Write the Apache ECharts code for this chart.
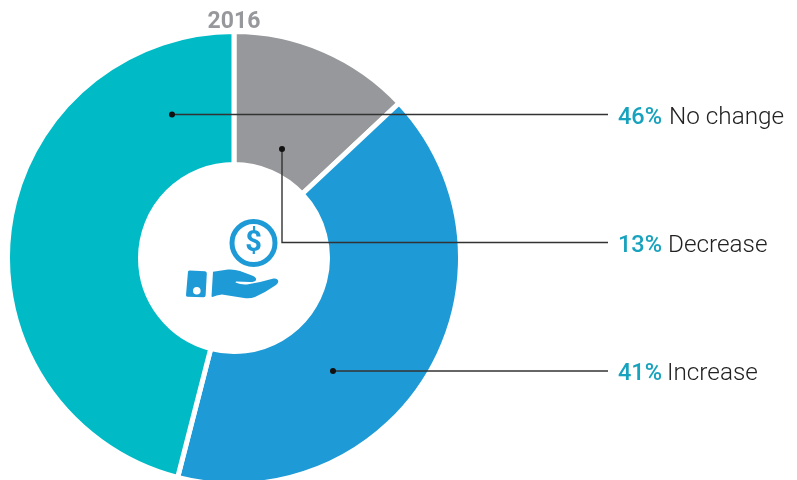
<!DOCTYPE html>
<html><head><meta charset="utf-8">
<style>html,body{margin:0;padding:0;background:#fff}#c{width:797px;height:480px}</style>
<script src="https://cdn.jsdelivr.net/npm/echarts@6/dist/echarts.min.js"></script>
</head><body><div id="c"></div>
<script>
const title = '2016';
const names = ['Decrease', 'Increase', 'No change'];
const values = [13, 41, 46];
const colors = ['#97989b', '#1e9ad6', '#00bac6'];
const legendOrder = [2, 0, 1];
const legendY = [118, 246, 374];
const nameX = [669, 668, 667];
const leaders = [
  [[172,114.5],[608,114.5]],
  [[282,149],[282,242.5],[608,242.5]],
  [[333,371],[608,371]]
];
const blue = '#1e9ad6';
echarts.graphic.registerShape('iconCard', echarts.graphic.extendPath('M188 271.5 Q188.5 270.5 190 270.5 L205 271.3 Q207 271.5 206.8 273.5 L205.6 295.5 Q205.5 297.3 203.5 297.3 L187.5 296.8 Q185.8 296.7 186 295 Z', {}));
echarts.graphic.registerShape('iconHand', echarts.graphic.extendPath('M213 271.8 L228 269.5 Q234 269 240 271 L252 275.5 Q257 277.5 256 280 Q255 282 250 282 L236 281.5 L235.5 282.5 Q241 285 247 284.5 Q260 282.5 273.5 278.5 Q277.5 278 278.3 281 Q278.5 283 276 285 Q266 292 255 297 Q250 299 244 298 L222 294.5 Q216 295 212.5 297 L211.5 296.5 Z', {}));
const chart = echarts.init(document.getElementById('c'), null, {renderer:'canvas'});
const graphic = [];
graphic.push({type:'text',x:234,y:22,z:10,style:{text:title,fill:'#97989b',font:'700 23px Roboto',align:'center',verticalAlign:'middle'}});
leaders.forEach(p=>{
  graphic.push({type:'polyline',z:10,shape:{points:p},style:{stroke:'#333',lineWidth:1.4,fill:null}});
  graphic.push({type:'circle',z:10,shape:{cx:p[0][0],cy:p[0][1],r:3},style:{fill:'#111'}});
});
legendOrder.forEach((idx,i)=>{
  graphic.push({type:'text',z:10,x:618,y:legendY[i],style:{text:values[idx]+'%',font:'500 23.5px Roboto',fill:'#17a2bd',verticalAlign:'middle',align:'left'}});
  graphic.push({type:'text',z:10,x:nameX[i],y:legendY[i],style:{text:names[idx],font:'300 24.3px Roboto',fill:'#222',verticalAlign:'middle',align:'left'}});
});
// icon
graphic.push({type:'circle',z:10,shape:{cx:253.5,cy:243,r:21.5},style:{fill:'none',stroke:blue,lineWidth:5}});
graphic.push({type:'text',z:10,x:253.5,y:244,style:{text:'$',font:'700 29px Roboto',fill:blue,align:'center',verticalAlign:'middle'}});
graphic.push({type:'iconCard',z:10,shape:{},style:{fill:blue}});
graphic.push({type:'circle',z:11,shape:{cx:196.8,cy:290.8,r:3.8},style:{fill:'#fff'}});
graphic.push({type:'iconHand',z:10,shape:{},style:{fill:blue}});
chart.setOption({
  animation:false,
  backgroundColor:'#fff',
  series:[{
    type:'pie',
    center:[234,258],
    radius:[93.5,226.5],
    startAngle:90,
    clockwise:true,
    label:{show:false},
    labelLine:{show:false},
    silent:true,
    itemStyle:{borderColor:'#fff',borderWidth:5},
    data:names.map((n,i)=>({name:n,value:values[i],itemStyle:{color:colors[i]}}))
  }],
  graphic:graphic
});
</script></body></html>
